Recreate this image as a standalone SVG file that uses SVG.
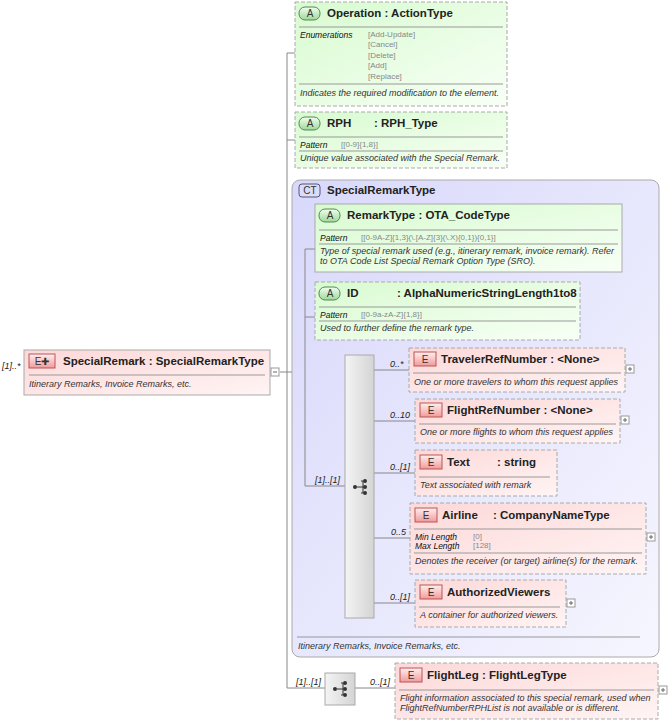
<svg xmlns="http://www.w3.org/2000/svg" width="668" height="724" viewBox="0 0 668 724">
<defs>
<linearGradient id="gA" x1="0" y1="0" x2="1" y2="1"><stop offset="0" stop-color="#d8fbd0"/><stop offset="1" stop-color="#f8fff6"/></linearGradient>
<linearGradient id="gE" x1="0" y1="0" x2="1" y2="1"><stop offset="0" stop-color="#fdd8d8"/><stop offset="1" stop-color="#fff4f4"/></linearGradient>
<linearGradient id="gCT" x1="0" y1="0" x2="1" y2="1"><stop offset="0" stop-color="#d8d8fb"/><stop offset="1" stop-color="#f6f6ff"/></linearGradient>
<linearGradient id="gS" x1="0" y1="0" x2="1" y2="0"><stop offset="0" stop-color="#f4f4f4"/><stop offset="1" stop-color="#d4d4d4"/></linearGradient>
<linearGradient id="gEb" x1="0" y1="0" x2="0" y2="1"><stop offset="0" stop-color="#fff0f0"/><stop offset="1" stop-color="#f29a9a"/></linearGradient>
<linearGradient id="gAb" x1="0" y1="0" x2="0" y2="1"><stop offset="0" stop-color="#f0fff0"/><stop offset="1" stop-color="#9ed89a"/></linearGradient>
<g id="seqicon"><circle cx="-6" cy="0" r="2" fill="#333"/><path d="M-4 0H0M2 -6V6M0 -6H2M0 0H2M0 6H2" stroke="#333" fill="none"/><circle cx="4" cy="-6" r="2" fill="#333"/><circle cx="4" cy="0" r="2" fill="#333"/><circle cx="4" cy="6" r="2" fill="#333"/></g>
</defs>
<style>
text{font-family:"Liberation Sans",Arial,sans-serif}
.t{font-size:11.5px;font-weight:bold;fill:#222}
.d{font-size:9px;font-style:italic;fill:#333}
.k{font-size:8.5px;font-style:italic;fill:#111}
.v{font-size:8px;fill:#888}
.m{font-size:9px;font-style:italic;fill:#222}
.bA{fill:url(#gA);stroke:#aaa;stroke-dasharray:4,2}
.bAs{fill:url(#gA);stroke:#aaa}
.bE{fill:url(#gE);stroke:#aaa;stroke-dasharray:4,2}
.sep{stroke:#999;stroke-width:1}
.ln{stroke:#888;fill:none}
.pl{fill:#fff;stroke:#999}
.badgeE{fill:url(#gEb);stroke:#b55}
.badgeA{fill:url(#gAb);stroke:#585}
.bt{font-size:10px;fill:#333;text-anchor:middle}
</style>
<g id="SpecialRemarkType">
<rect x="292" y="180" width="367" height="477" rx="8" fill="url(#gCT)" stroke="#aaa"/>
<rect x="299" y="184" width="21" height="13" rx="3" fill="#dcdcf8" stroke="#557"/><text class="bt" x="310" y="194">CT</text>
<text class="t" x="327" y="194">SpecialRemarkType</text>
<line class="sep" x1="297" y1="637" x2="640" y2="637"/>
<text class="d" x="298" y="649">Itinerary Remarks, Invoice Remarks, etc.</text>
</g>
<g id="connectors">
<path class="ln" d="M280 372H287M287 53V688M287 53H295M287 140H295M287 372H292M287 688H325M355 688H395"/>
<path class="ln" d="M305 249V486H345M305 249H315M305 317H315M374 370H409M374 421H415M374 473H415M374 538H410M374 603H415"/>
<text class="m" x="296" y="685">[1]..[1]</text>
<text class="m" x="370" y="685">0..[1]</text>
<text class="m" x="315" y="483">[1]..[1]</text>
<text class="m" x="390" y="367">0..*</text>
<text class="m" x="390" y="418">0..10</text>
<text class="m" x="390" y="470">0..[1]</text>
<text class="m" x="391" y="535">0..5</text>
<text class="m" x="390" y="600">0..[1]</text>
<text class="m" x="2" y="369">[1]..*</text>
</g>
<g id="SpecialRemark">
<rect x="24" y="350" width="246" height="45" fill="url(#gE)" stroke="#aaa"/>
<rect x="29" y="354" width="26" height="14" class="badgeE"/><text class="bt" x="42" y="365">E✚</text>
<text class="t" x="63" y="365">SpecialRemark : SpecialRemarkType</text>
<line class="sep" x1="29" y1="375" x2="265" y2="375"/>
<text class="d" x="29" y="387">Itinerary Remarks, Invoice Remarks, etc.</text>
<rect class="pl" x="271" y="368" width="8" height="8"/><path d="M273 372H277" stroke="#666"/>
</g>
<g id="Operation">
<rect class="bA" x="295" y="2" width="212" height="104"/>
<rect x="299" y="7" width="21" height="13" rx="6" class="badgeA"/><text class="bt" x="310" y="17">A</text>
<text class="t" x="327" y="17">Operation : ActionType</text>
<line class="sep" x1="299" y1="27" x2="503" y2="27"/>
<text class="k" x="300" y="38">Enumerations</text>
<text class="v" x="368" y="37">[Add-Update]</text><text class="v" x="368" y="47">[Cancel]</text><text class="v" x="368" y="58">[Delete]</text><text class="v" x="368" y="68">[Add]</text><text class="v" x="368" y="79">[Replace]</text>
<line class="sep" x1="299" y1="84" x2="503" y2="84"/>
<text class="d" x="300" y="96">Indicates the required modification to the element.</text>
</g>
<g id="RPH">
<rect class="bA" x="295" y="112" width="212" height="56"/>
<rect x="299" y="117" width="21" height="13" rx="6" class="badgeA"/><text class="bt" x="310" y="127">A</text>
<text class="t" x="327" y="127">RPH</text><text class="t" x="374" y="127">: RPH_Type</text>
<line class="sep" x1="299" y1="137" x2="503" y2="137"/>
<text class="k" x="300" y="148">Pattern</text><text class="v" x="341" y="147">[[0-9]{1,8}]</text>
<line class="sep" x1="299" y1="151" x2="503" y2="151"/>
<text class="d" x="300" y="161">Unique value associated with the Special Remark.</text>
</g>
<g id="RemarkType">
<rect class="bAs" x="315" y="204" width="307" height="68"/>
<rect x="319" y="209" width="21" height="13" rx="6" class="badgeA"/><text class="bt" x="330" y="219">A</text>
<text class="t" x="347" y="219">RemarkType : OTA_CodeType</text>
<line class="sep" x1="319" y1="230" x2="618" y2="230"/>
<text class="k" x="320" y="241">Pattern</text><text class="v" x="361" y="240">[[0-9A-Z]{1,3}(\.[A-Z]{3}(\.X){0,1}){0,1}]</text>
<line class="sep" x1="319" y1="244" x2="618" y2="244"/>
<text class="d" x="320" y="254">Type of special remark used (e.g., itinerary remark, invoice remark). Refer</text>
<text class="d" x="320" y="264">to OTA Code List Special Remark Option Type (SRO).</text>
</g>
<g id="ID">
<rect class="bA" x="315" y="282" width="265" height="58"/>
<rect x="319" y="287" width="21" height="13" rx="6" class="badgeA"/><text class="bt" x="330" y="297">A</text>
<text class="t" x="347" y="297">ID</text><text class="t" x="397" y="297">: AlphaNumericStringLength1to8</text>
<line class="sep" x1="319" y1="307" x2="576" y2="307"/>
<text class="k" x="320" y="318">Pattern</text><text class="v" x="361" y="317">[[0-9a-zA-Z]{1,8}]</text>
<line class="sep" x1="319" y1="321" x2="576" y2="321"/>
<text class="d" x="320" y="331">Used to further define the remark type.</text>
</g>
<g id="Sequence">
<rect x="345" y="355" width="29" height="263" fill="url(#gS)" stroke="#aaa"/>
<use href="#seqicon" x="361" y="487"/>
</g>
<g id="TravelerRefNumber">
<rect class="bE" x="409" y="348" width="216" height="44"/>
<rect x="414" y="352" width="22" height="14" class="badgeE"/><text class="bt" x="425" y="363">E</text>
<text class="t" x="441" y="363">TravelerRefNumber : &lt;None&gt;</text>
<line class="sep" x1="413" y1="373" x2="621" y2="373"/>
<text class="d" x="414" y="385">One or more travelers to whom this request applies</text>
<rect class="pl" x="626" y="365" width="8" height="8"/><path d="M628 369H632M630 367V371" stroke="#666"/>
</g>
<g id="FlightRefNumber">
<rect class="bE" x="415" y="399" width="205" height="44"/>
<rect x="420" y="403" width="22" height="14" class="badgeE"/><text class="bt" x="431" y="414">E</text>
<text class="t" x="447" y="414">FlightRefNumber : &lt;None&gt;</text>
<line class="sep" x1="419" y1="424" x2="616" y2="424"/>
<text class="d" x="420" y="435">One or more flights to whom this request applies</text>
<rect class="pl" x="621" y="416" width="8" height="8"/><path d="M623 420H627M625 418V422" stroke="#666"/>
</g>
<g id="Text">
<rect class="bE" x="415" y="450" width="142" height="46"/>
<rect x="420" y="455" width="22" height="14" class="badgeE"/><text class="bt" x="431" y="466">E</text>
<text class="t" x="447" y="466">Text</text><text class="t" x="497" y="466">: string</text>
<line class="sep" x1="419" y1="477" x2="550" y2="477"/>
<text class="d" x="420" y="488">Text associated with remark</text>
</g>
<g id="Airline">
<rect class="bE" x="410" y="503" width="236" height="71"/>
<rect x="415" y="508" width="22" height="14" class="badgeE"/><text class="bt" x="426" y="519">E</text>
<text class="t" x="442" y="519">Airline</text><text class="t" x="493" y="519">: CompanyNameType</text>
<line class="sep" x1="414" y1="529" x2="642" y2="529"/>
<text class="k" x="415" y="540">Min Length</text><text class="v" x="473" y="539">[0]</text>
<text class="k" x="415" y="549">Max Length</text><text class="v" x="473" y="548">[128]</text>
<line class="sep" x1="414" y1="553" x2="642" y2="553"/>
<text class="d" x="415" y="564">Denotes the receiver (or target) airline(s) for the remark.</text>
<rect class="pl" x="647" y="533" width="8" height="8"/><path d="M649 537H653M651 535V539" stroke="#666"/>
</g>
<g id="AuthorizedViewers">
<rect class="bE" x="415" y="580" width="151" height="47"/>
<rect x="420" y="585" width="22" height="14" class="badgeE"/><text class="bt" x="431" y="596">E</text>
<text class="t" x="447" y="596">AuthorizedViewers</text>
<line class="sep" x1="419" y1="607" x2="560" y2="607"/>
<text class="d" x="420" y="618">A container for authorized viewers.</text>
<rect class="pl" x="567" y="599" width="8" height="8"/><path d="M569 603H573M571 601V605" stroke="#666"/>
</g>
<g id="Sequence2">
<rect x="325" y="673" width="30" height="32" fill="url(#gS)" stroke="#aaa"/>
<use href="#seqicon" x="341" y="689"/>
</g>
<g id="FlightLeg">
<rect class="bE" x="395" y="663" width="263" height="56"/>
<rect x="400" y="668" width="22" height="14" class="badgeE"/><text class="bt" x="411" y="679">E</text>
<text class="t" x="427" y="679">FlightLeg : FlightLegType</text>
<line class="sep" x1="399" y1="690" x2="654" y2="690"/>
<text class="d" x="400" y="701">Flight information associated to this special remark, used when</text>
<text class="d" x="400" y="711">FlightRefNumberRPHList is not available or is different.</text>
<rect class="pl" x="659" y="686" width="8" height="8"/><path d="M661 690H665M663 688V692" stroke="#666"/>
</g>
</svg>
